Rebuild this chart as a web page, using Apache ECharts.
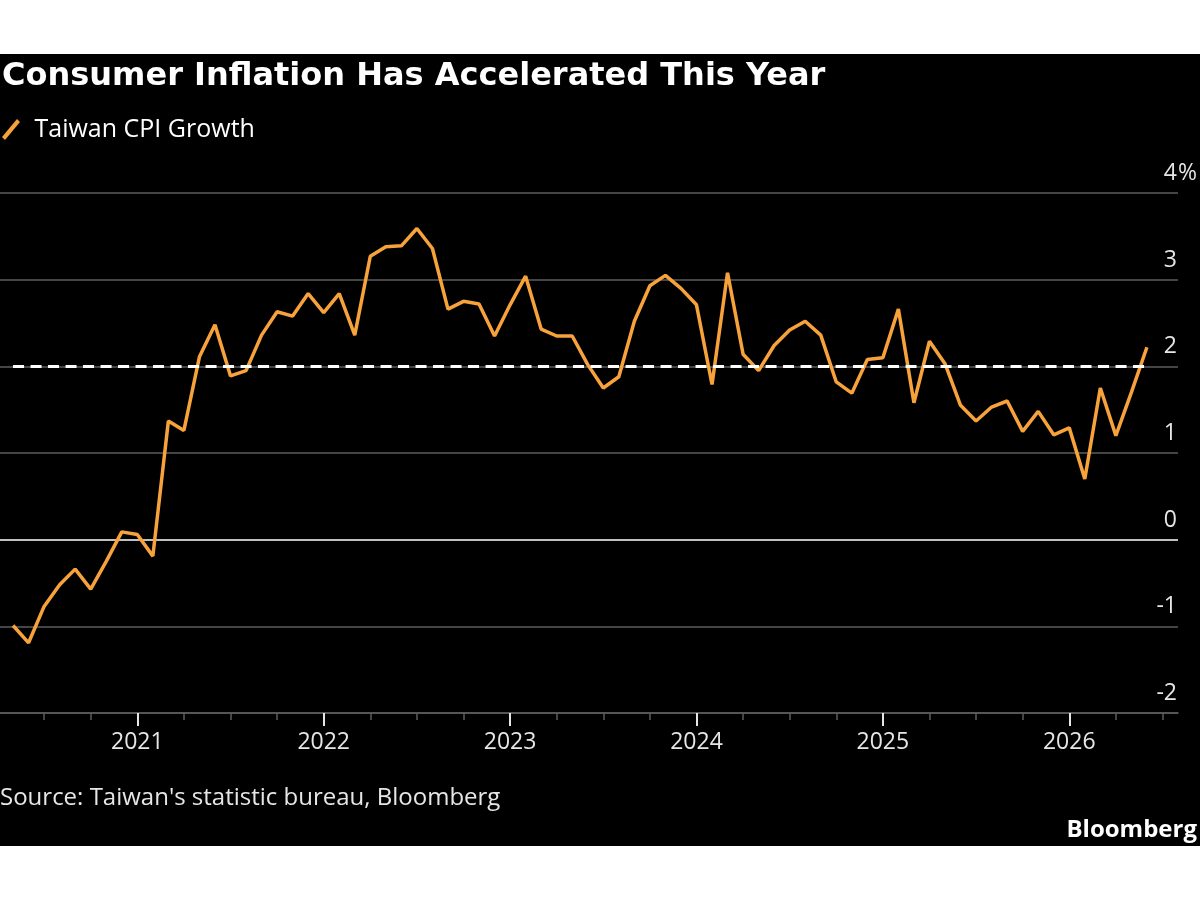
<!DOCTYPE html>
<html>
<head>
<meta charset="utf-8">
<script src="https://cdn.jsdelivr.net/npm/echarts@6/dist/echarts.min.js"></script>
<style>
  html, body { margin: 0; padding: 0; background: #fff; }
  #wrap { position: relative; width: 1200px; height: 900px; }
  #band { position: absolute; left: 0; top: 54px; width: 1200px; height: 792px; background: #000; }
  #chart { position: absolute; left: 0; top: 0; width: 1200px; height: 900px; }
</style>
</head>
<body>
<div id="wrap"><div id="band"></div><div id="chart"></div></div>
<script>
// Taiwan CPI, YoY %, monthly, first value is Apr 2020
const firstYear = 2020
const firstMonth = 4
const cpiGrowth = [
  -0.99, -1.19, -0.77, -0.52, -0.34, -0.57, -0.25, 0.09, 0.06,
  -0.19, 1.37, 1.26, 2.11, 2.48, 1.89, 1.95, 2.36, 2.63, 2.58, 2.84, 2.62,
  2.84, 2.36, 3.27, 3.38, 3.39, 3.59, 3.36, 2.66, 2.75, 2.72, 2.35, 2.71,
  3.04, 2.43, 2.35, 2.35, 2.02, 1.75, 1.88, 2.52, 2.93, 3.05, 2.90, 2.71,
  1.79, 3.08, 2.14, 1.95, 2.24, 2.42, 2.52, 2.36, 1.82, 1.69, 2.08, 2.10,
  2.66, 1.58, 2.29, 2.03, 1.55, 1.37, 1.53, 1.60, 1.25, 1.48, 1.21, 1.29,
  0.70, 1.75, 1.20, 1.70, 2.22
]
const target = 2
const years = [2021, 2022, 2023, 2024, 2025, 2026]
const yTicks = [-2, -1, 0, 1, 2, 3, 4]

const orange = '#f7a23a'
const gray = '#5c5c5c'
const labelColor = '#e6e6e6'
const font = 'Open Sans'

// x in months from Jan 2021, a month's value is put at its month end
const monthX = (i) => (firstYear - 2021) * 12 + (firstMonth - 1) + i + 1
const xMin = -8.84
const xMax = 67.0

const lineData = cpiGrowth.map((v, i) => [monthX(i), v])
const yearTicks = years.map((y) => (y - 2021) * 12)
const quarterTicks = []
for (let k = -6; k <= 66; k += 3) {
  if (k % 12 !== 0) quarterTicks.push(k)
}

const chart = echarts.init(document.getElementById('chart'))

const option = {
  animation: false,
  textStyle: { fontFamily: font },
  title: [
    {
      text: 'Consumer Inflation Has Accelerated This Year',
      left: 2,
      top: 61,
      padding: 0,
      textStyle: { color: '#fff', fontFamily: 'DejaVu Sans', fontWeight: 'bold', fontSize: 32 }
    },
    {
      text: "Source: Taiwan's statistic bureau, Bloomberg",
      left: 0,
      top: 786,
      padding: 0,
      textStyle: { color: labelColor, fontFamily: font, fontWeight: 'normal', fontSize: 24 }
    },
    {
      text: 'Bloomberg',
      right: 3,
      top: 818,
      padding: 0,
      textStyle: { color: '#fff', fontFamily: font, fontWeight: 'bold', fontSize: 24 }
    }
  ],
  legend: {
    left: 2,
    top: 117,
    padding: 0,
    icon: 'path://M0,18 L15,0 L18,3 L3,21 Z',
    itemWidth: 19,
    itemHeight: 21,
    textStyle: { color: '#fff', fontSize: 25, fontFamily: font, padding: [0, 0, 0, 9] },
    data: ['Taiwan CPI Growth']
  },
  grid: { left: 0, right: 17, top: 193, bottom: 187 },
  xAxis: [
    {
      type: 'value',
      min: xMin,
      max: xMax,
      position: 'bottom',
      axisLine: { onZero: false, lineStyle: { color: gray, width: 1.5 } },
      axisTick: { customValues: quarterTicks, length: 7, lineStyle: { color: gray, width: 1.5 } },
      axisLabel: { show: false },
      splitLine: { show: false }
    },
    {
      type: 'value',
      min: xMin,
      max: xMax,
      position: 'bottom',
      axisLine: { show: false, onZero: false },
      axisTick: { customValues: yearTicks, length: 13, lineStyle: { color: labelColor, width: 2 } },
      axisLabel: {
        customValues: yearTicks,
        formatter: (v) => String(years[Math.round(v / 12)]),
        color: labelColor,
        fontSize: 23,
        margin: 18
      },
      splitLine: { show: false }
    }
  ],
  yAxis: [
    {
      type: 'value',
      position: 'right',
      min: yTicks[0],
      max: yTicks[yTicks.length - 1],
      interval: 1,
      axisLine: { show: false },
      axisTick: { show: false },
      splitLine: {
        lineStyle: { color: yTicks.map((t) => (t === 0 ? '#ffffff' : gray)), width: 1.5 }
      },
      axisLabel: {
        inside: true,
        align: 'right',
        verticalAlign: 'bottom',
        margin: 1,
        padding: [0, 0, 8, 0],
        color: labelColor,
        fontSize: 23
      }
    },
    {
      type: 'value',
      position: 'right',
      min: yTicks[0],
      max: yTicks[yTicks.length - 1],
      interval: 1,
      axisLine: { show: false },
      axisTick: { show: false },
      splitLine: { show: false },
      axisLabel: {
        formatter: (v) => (v === yTicks[yTicks.length - 1] ? '%' : ''),
        align: 'left',
        verticalAlign: 'bottom',
        margin: 0,
        padding: [0, 0, 8, 0],
        color: labelColor,
        fontSize: 23
      }
    }
  ],
  series: [
    {
      name: 'Taiwan CPI Growth',
      type: 'line',
      xAxisIndex: 0,
      yAxisIndex: 0,
      data: lineData,
      showSymbol: false,
      z: 3,
      lineStyle: { color: orange, width: 3.5 },
      itemStyle: { color: orange },
      markLine: {
        silent: true,
        symbol: 'none',
        label: { show: false },
        lineStyle: { color: '#fff', width: 3, type: [11, 6.5] },
        data: [
          [
            { coord: [lineData[0][0], target] },
            { coord: [lineData[lineData.length - 1][0], target] }
          ]
        ]
      }
    }
  ]
}

chart.setOption(option)
</script>
</body>
</html>
